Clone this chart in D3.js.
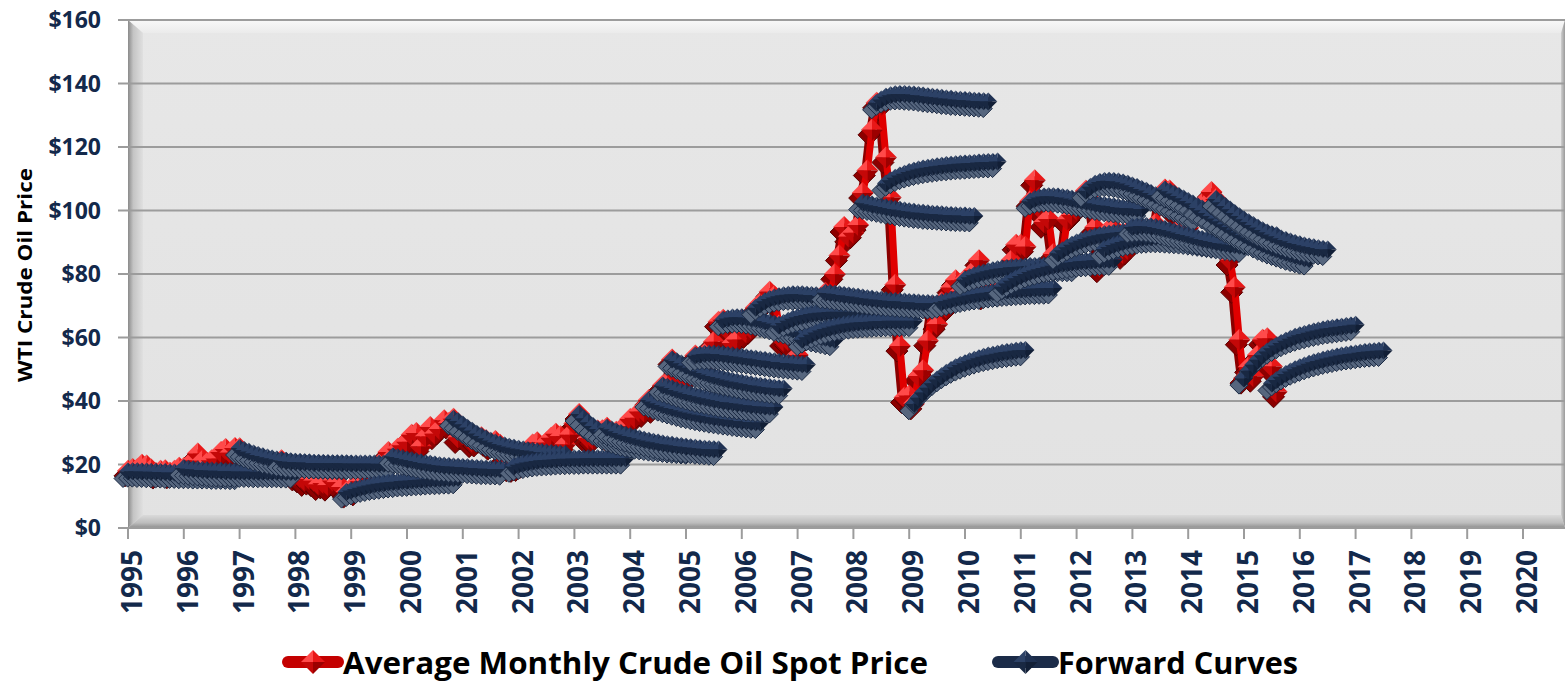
<!DOCTYPE html>
<html>
<head>
<script src="https://d3js.org/d3.v7.min.js"></script>
<style>
  body { margin: 0; background: #fff; }
  svg { display: block; }
  text { font-family: "Open Sans", sans-serif; font-weight: bold; }
</style>
</head>
<body>
<svg id="chart" width="1566" height="683"></svg>
<script>
// monthly average WTI spot price, Jan 1995 .. Aug 2015
const spotStart = "1995-01";
const spotPrice = [
  18.0, 18.6, 18.5, 19.9, 19.7, 18.4, 17.3, 18.0, 18.2, 17.4, 18.0, 19.0,
  18.9, 19.1, 21.3, 23.5, 21.2, 20.4, 21.3, 21.9, 23.9, 24.9, 23.7, 25.2,
  25.1, 22.2, 20.9, 19.7, 20.8, 19.3, 19.7, 19.9, 19.8, 21.3, 20.2, 18.3,
  16.7, 16.1, 15.0, 15.4, 14.9, 13.7, 14.2, 13.5, 15.0, 14.4, 12.9, 11.3,
  12.5, 12.0, 14.7, 17.3, 17.8, 17.9, 20.1, 21.3, 23.9, 22.6, 25.0, 26.1,
  27.2, 29.4, 29.9, 25.7, 28.8, 31.8, 29.7, 31.2, 33.9, 33.1, 34.4, 28.5,
  29.6, 29.6, 27.2, 27.4, 28.6, 27.6, 26.4, 27.4, 26.2, 22.2, 19.6, 19.4,
  19.7, 20.7, 24.4, 26.3, 27.0, 25.5, 26.9, 28.4, 29.7, 28.9, 26.3, 29.4,
  32.9, 35.9, 33.5, 28.3, 28.1, 30.7, 30.8, 31.6, 28.3, 30.3, 31.1, 32.1,
  34.3, 34.7, 36.7, 36.7, 40.3, 38.0, 40.7, 44.9, 45.9, 53.1, 48.5, 43.3,
  46.8, 48.0, 54.3, 53.0, 49.8, 56.3, 58.7, 65.0, 65.6, 62.4, 58.3, 59.4,
  65.5, 61.6, 62.9, 69.4, 70.8, 70.9, 74.4, 73.0, 63.8, 58.9, 59.1, 62.0,
  54.5, 59.3, 60.4, 64.0, 63.5, 67.5, 74.1, 72.4, 79.9, 85.8, 94.8, 91.7,
  93.0, 95.4, 105.5, 112.6, 125.4, 133.9, 133.4, 116.7, 104.1, 76.6, 57.3, 41.1,
  41.7, 39.1, 47.9, 49.7, 59.0, 69.6, 64.2, 71.1, 69.4, 75.7, 78.0, 74.5,
  78.3, 76.4, 81.2, 84.3, 73.7, 75.3, 76.3, 76.6, 75.2, 81.9, 84.3, 89.2,
  89.2, 88.6, 102.9, 109.5, 100.9, 96.3, 97.3, 86.3, 85.5, 86.3, 97.2, 98.6,
  100.3, 102.2, 106.2, 103.3, 94.7, 82.3, 87.9, 94.1, 94.5, 89.5, 86.5, 87.9,
  94.8, 95.3, 92.9, 92.0, 94.5, 95.8, 104.6, 106.6, 106.3, 100.5, 93.9, 97.6,
  94.6, 100.8, 100.8, 102.1, 102.2, 105.8, 103.6, 96.5, 93.2, 84.4, 75.8, 59.3,
  47.2, 50.6, 47.8, 54.5, 59.3, 59.8, 50.9, 42.9
];

// forward curves: first contract month and 25 monthly prices
const fwdStart = [
  "1995-01", "1996-01", "1997-01", "1997-10", "1998-12", "1999-10", "2000-11", "2001-12",
  "2003-02", "2003-08", "2004-05", "2004-08", "2004-10", "2005-03", "2005-09", "2006-04",
  "2006-09", "2007-02", "2007-07", "2008-03", "2008-06", "2008-08", "2009-02", "2009-08",
  "2010-01", "2010-09", "2011-03", "2011-09", "2012-03", "2012-07", "2013-01", "2013-08",
  "2014-03", "2014-07", "2015-01", "2015-07"
];
const fwdCurves = [
  [17.8,17.9,17.9,17.8,17.8,17.7,17.7,17.6,17.6,17.5,17.5,17.5,17.4,17.4,17.4,17.3,17.3,17.3,17.3,17.2,17.2,17.2,17.2,17.1,17.1],
  [18.9,18.7,18.5,18.4,18.3,18.2,18.1,18.0,18.0,17.9,17.9,17.9,17.8,17.8,17.8,17.8,17.7,17.7,17.7,17.7,17.7,17.7,17.6,17.6,17.6],
  [25.2,24.6,24.0,23.5,23.0,22.6,22.2,21.9,21.6,21.4,21.2,21.0,20.9,20.8,20.7,20.6,20.5,20.5,20.4,20.4,20.3,20.3,20.3,20.2,20.2],
  [21.3,21.1,20.9,20.8,20.7,20.6,20.6,20.5,20.5,20.5,20.4,20.4,20.4,20.4,20.4,20.3,20.3,20.3,20.3,20.3,20.3,20.2,20.2,20.2,20.2],
  [11.3,11.8,12.3,12.7,13.1,13.4,13.7,13.9,14.1,14.3,14.5,14.6,14.8,14.9,15.0,15.1,15.2,15.3,15.4,15.5,15.5,15.6,15.7,15.7,15.8],
  [22.6,22.3,22.0,21.6,21.3,21.0,20.7,20.4,20.2,20.0,19.8,19.6,19.5,19.4,19.3,19.2,19.1,19.0,18.9,18.8,18.7,18.7,18.6,18.6,18.5],
  [34.4,33.6,32.6,31.6,30.6,29.7,28.9,28.2,27.5,26.9,26.4,26.0,25.6,25.3,25.0,24.7,24.5,24.3,24.1,23.9,23.8,23.6,23.5,23.4,23.3],
  [19.4,19.9,20.3,20.6,20.9,21.1,21.3,21.4,21.5,21.6,21.7,21.8,21.8,21.9,21.9,21.9,22.0,22.0,22.0,22.0,22.0,22.0,22.0,22.0,22.0],
  [35.9,34.5,33.2,32.1,31.1,30.3,29.6,29.0,28.5,28.0,27.6,27.3,27.0,26.7,26.5,26.3,26.1,25.9,25.8,25.7,25.5,25.4,25.3,25.2,25.1],
  [31.6,31.0,30.4,29.9,29.4,29.0,28.6,28.2,27.8,27.5,27.2,26.9,26.6,26.4,26.2,26.0,25.8,25.6,25.4,25.3,25.1,25.0,24.9,24.8,24.7],
  [40.3,39.8,39.2,38.7,38.2,37.8,37.4,37.0,36.6,36.3,36.0,35.7,35.4,35.2,34.9,34.7,34.5,34.3,34.1,33.9,33.7,33.6,33.4,33.3,33.2],
  [44.9,44.5,44.0,43.5,43.0,42.6,42.2,41.8,41.4,41.1,40.8,40.5,40.2,39.9,39.7,39.5,39.3,39.1,38.9,38.7,38.6,38.4,38.3,38.2,38.1],
  [53.1,52.5,51.8,51.1,50.5,49.9,49.3,48.8,48.3,47.9,47.5,47.1,46.7,46.4,46.1,45.8,45.5,45.3,45.0,44.8,44.6,44.4,44.2,44.0,43.9],
  [54.3,54.6,54.8,54.9,54.9,54.8,54.7,54.5,54.3,54.1,53.9,53.7,53.5,53.3,53.1,52.9,52.7,52.5,52.3,52.2,52.0,51.9,51.7,51.6,51.5],
  [65.6,66.0,66.3,66.4,66.4,66.3,66.1,65.8,65.5,65.1,64.7,64.3,63.9,63.4,63.0,62.5,62.1,61.7,61.3,60.9,60.5,60.2,59.9,59.6,59.3],
  [69.4,70.5,71.4,72.1,72.6,73.0,73.3,73.5,73.6,73.6,73.6,73.5,73.4,73.3,73.1,72.9,72.7,72.5,72.3,72.1,71.9,71.7,71.5,71.3,71.1],
  [63.8,64.6,65.3,65.9,66.4,66.8,67.1,67.4,67.6,67.8,67.9,68.0,68.1,68.1,68.1,68.1,68.1,68.0,68.0,67.9,67.9,67.8,67.7,67.7,67.6],
  [59.3,60.1,60.9,61.6,62.2,62.7,63.1,63.5,63.8,64.1,64.3,64.5,64.7,64.8,64.9,65.0,65.1,65.2,65.2,65.3,65.3,65.3,65.3,65.3,65.3],
  [74.1,74.0,73.8,73.6,73.4,73.2,73.0,72.8,72.6,72.4,72.2,72.0,71.9,71.7,71.6,71.5,71.4,71.3,71.2,71.1,71.0,70.9,70.9,70.8,70.8],
  [102.5,102.2,101.9,101.6,101.3,101.0,100.7,100.5,100.2,100.0,99.8,99.6,99.4,99.3,99.1,99.0,98.9,98.8,98.7,98.6,98.5,98.4,98.4,98.3,98.3],
  [133.9,135.0,135.8,136.3,136.6,136.7,136.7,136.6,136.5,136.4,136.2,136.0,135.8,135.7,135.5,135.3,135.2,135.0,134.9,134.8,134.7,134.6,134.5,134.4,134.3],
  [108.5,109.5,110.3,111.0,111.6,112.1,112.5,112.9,113.2,113.5,113.7,113.9,114.1,114.3,114.4,114.6,114.7,114.8,114.9,115.0,115.1,115.2,115.3,115.3,115.4],
  [39.1,41.0,42.7,44.2,45.6,46.8,47.9,48.9,49.8,50.6,51.3,51.9,52.5,53.0,53.5,53.9,54.3,54.6,54.9,55.2,55.4,55.6,55.8,56.0,56.1],
  [71.1,71.5,71.9,72.3,72.6,72.9,73.2,73.5,73.7,73.9,74.1,74.3,74.5,74.6,74.8,74.9,75.0,75.1,75.2,75.3,75.4,75.4,75.5,75.5,75.6],
  [78.3,79.0,79.6,80.1,80.5,80.9,81.2,81.5,81.7,81.9,82.1,82.2,82.3,82.4,82.5,82.5,82.6,82.6,82.6,82.6,82.6,82.6,82.6,82.6,82.6],
  [76.0,77.0,77.9,78.7,79.4,80.0,80.6,81.1,81.5,81.9,82.3,82.6,82.9,83.2,83.4,83.6,83.8,84.0,84.1,84.2,84.3,84.4,84.5,84.5,84.6],
  [102.9,103.6,104.1,104.4,104.5,104.5,104.4,104.2,104.0,103.7,103.4,103.1,102.8,102.5,102.2,101.9,101.7,101.5,101.3,101.1,100.9,100.8,100.7,100.6,100.5],
  [86.5,87.5,88.4,89.2,89.9,90.5,91.0,91.5,91.9,92.2,92.5,92.7,92.9,93.1,93.2,93.3,93.3,93.4,93.4,93.4,93.4,93.3,93.3,93.2,93.2],
  [106.2,107.5,108.4,109.0,109.3,109.4,109.3,109.1,108.8,108.4,107.9,107.4,106.8,106.2,105.5,104.8,104.1,103.4,102.7,102.0,101.3,100.6,99.9,99.2,98.5],
  [87.9,88.5,89.1,89.6,90.1,90.5,90.8,91.1,91.3,91.5,91.6,91.7,91.7,91.7,91.6,91.5,91.4,91.3,91.2,91.0,90.8,90.6,90.4,90.2,90.0],
  [94.8,95.0,95.1,95.1,95.0,94.8,94.5,94.2,93.8,93.4,93.0,92.6,92.2,91.8,91.4,91.0,90.7,90.4,90.1,89.8,89.5,89.3,89.1,88.9,88.7],
  [106.6,106.0,105.3,104.6,103.8,103.0,102.2,101.4,100.6,99.8,99.1,98.4,97.7,97.0,96.4,95.8,95.3,94.8,94.3,93.9,93.5,93.1,92.8,92.5,92.2],
  [100.8,100.0,99.2,98.3,97.4,96.5,95.6,94.7,93.9,93.1,92.3,91.5,90.8,90.1,89.4,88.8,88.2,87.7,87.2,86.7,86.2,85.8,85.4,85.0,84.7],
  [103.6,102.5,101.4,100.3,99.2,98.2,97.2,96.3,95.4,94.6,93.8,93.1,92.4,91.8,91.2,90.7,90.2,89.8,89.4,89.0,88.7,88.4,88.1,87.9,87.7],
  [47.2,49.5,51.4,53.0,54.4,55.6,56.6,57.5,58.3,59.0,59.6,60.2,60.7,61.1,61.5,61.9,62.2,62.5,62.8,63.0,63.2,63.4,63.6,63.8,64.0],
  [45.5,46.6,47.6,48.5,49.3,50.0,50.6,51.2,51.7,52.2,52.6,53.0,53.4,53.7,54.0,54.3,54.6,54.8,55.0,55.2,55.4,55.6,55.7,55.8,55.9]
];

const yearTicks = [1995, 1996, 1997, 1998, 1999, 2000, 2001, 2002, 2003, 2004, 2005, 2006, 2007,
  2008, 2009, 2010, 2011, 2012, 2013, 2014, 2015, 2016, 2017, 2018, 2019, 2020];
const priceTicks = [0, 20, 40, 60, 80, 100, 120, 140, 160];

const svg = d3.select("#chart");
const pLeft = 128, pRight = 1565, pTop = 20, pBottom = 528;
const x = d3.scaleLinear().domain([1995, 2020]).range([128, 1523]);
const y = d3.scaleLinear().domain([0, 160]).range([pBottom, pTop]);

const toPoints = (start, vals) => {
  const [yy, mm] = start.split("-").map(Number);
  return vals.map((v, i) => ({ t: yy + (mm - 1 + i) / 12, v: v }));
};

// gradients for the beveled plot frame
const defs = svg.append("defs");
function grad(id, x2, y2, stops) {
  const g = defs.append("linearGradient").attr("id", id)
    .attr("x1", 0).attr("y1", 0).attr("x2", x2).attr("y2", y2);
  stops.forEach(s => g.append("stop").attr("offset", s[0]).attr("stop-color", s[1]));
}
grad("face", 0, 1, [[0, "#e7e7e7"], [1, "#e2e2e2"]]);
grad("bevTop", 0, 1, [[0, "#f8f8f8"], [1, "#ebebeb"]]);
grad("bevLeft", 1, 0, [[0, "#8a8a8a"], [0.35, "#c4c4c4"], [1, "#e0e0e0"]]);
grad("bevBottom", 0, 1, [[0, "#dadada"], [0.6, "#bdbdbd"], [1, "#8e8e8e"]]);
grad("bevRight", 1, 0, [[0, "#cfcfcf"], [1, "#9a9a9a"]]);

const frame = svg.append("g");
frame.append("rect").attr("x", pLeft).attr("y", pTop).attr("width", pRight - pLeft).attr("height", pBottom - pTop).attr("fill", "url(#face)");
frame.append("polygon").attr("points", `${pLeft},${pTop} ${pRight},${pTop} ${pRight - 4},${pTop + 13} ${pLeft + 15},${pTop + 13}`).attr("fill", "url(#bevTop)");
frame.append("polygon").attr("points", `${pLeft},${pTop} ${pLeft + 15},${pTop + 13} ${pLeft + 15},${pBottom - 13} ${pLeft},${pBottom}`).attr("fill", "url(#bevLeft)");
frame.append("polygon").attr("points", `${pLeft},${pBottom} ${pLeft + 15},${pBottom - 13} ${pRight - 4},${pBottom - 13} ${pRight},${pBottom}`).attr("fill", "url(#bevBottom)");
frame.append("polygon").attr("points", `${pRight},${pTop} ${pRight - 4},${pTop + 13} ${pRight - 4},${pBottom - 13} ${pRight},${pBottom}`).attr("fill", "url(#bevRight)");

// gridlines + y labels
const yAxis = svg.append("g");
yAxis.selectAll("line").data(priceTicks).join("line")
  .attr("x1", 118).attr("x2", pRight)
  .attr("y1", d => y(d)).attr("y2", d => y(d))
  .attr("stroke", "#9c9c9c").attr("stroke-width", 2);
yAxis.selectAll("text").data(priceTicks).join("text")
  .attr("x", 101).attr("y", d => y(d)).attr("dy", "0.35em")
  .attr("text-anchor", "end").attr("font-size", 23).attr("fill", "#13294b")
  .text(d => "$" + d);

// x ticks + rotated year labels
const xAxis = svg.append("g");
xAxis.selectAll("line").data(yearTicks).join("line")
  .attr("x1", d => x(d)).attr("x2", d => x(d))
  .attr("y1", pBottom + 1).attr("y2", pBottom + 11)
  .attr("stroke", "#9c9c9c").attr("stroke-width", 2);
xAxis.selectAll("text").data(yearTicks).join("text")
  .attr("transform", d => `translate(${x(d) + 14},550)rotate(-90)`)
  .attr("text-anchor", "end").attr("font-size", 28).attr("fill", "#13294b")
  .text(d => d);

// y axis title
svg.append("text")
  .attr("transform", "translate(32,275)rotate(-90)")
  .attr("text-anchor", "middle").attr("font-size", 19).attr("fill", "#000")
  .attr("textLength", 214).attr("lengthAdjust", "spacingAndGlyphs")
  .text("WTI Crude Oil Price");

// pyramid-shaded diamond marker
function facets(g, r, colors) {
  const paths = [
    `M0,0L${-r},0L0,${-r}Z`, `M0,0L0,${-r}L${r},0Z`,
    `M0,0L${r},0L0,${r}Z`, `M0,0L0,${r}L${-r},0Z`
  ];
  paths.forEach((p, i) => g.append("path").attr("d", p).attr("fill", colors[i]));
}

const line = d3.line().x(d => x(d.t)).y(d => y(d.v));

function drawSeries(parent, pts, st) {
  const g = parent.append("g");
  // extruded depth
  const depth = g.append("g").attr("transform", `translate(${st.dx},${st.dy})`);
  depth.append("path").datum(pts).attr("d", line).attr("fill", "none")
    .attr("stroke", st.depthLine).attr("stroke-width", st.width).attr("stroke-linejoin", "round");
  depth.selectAll("path.dm").data(pts).join("path").attr("class", "dm")
    .attr("d", `M0,${-st.r}L${st.r},0L0,${st.r}L${-st.r},0Z`)
    .attr("transform", d => `translate(${x(d.t)},${y(d.v)})`)
    .attr("fill", st.depthFill).attr("stroke", st.depthStroke).attr("stroke-width", 1);
  // front face
  g.append("path").datum(pts).attr("d", line).attr("fill", "none")
    .attr("stroke", st.lineColor).attr("stroke-width", st.width).attr("stroke-linejoin", "round");
  g.selectAll("g.mk").data(pts).join("g").attr("class", "mk")
    .attr("transform", d => `translate(${x(d.t)},${y(d.v)})`)
    .each(function () { facets(d3.select(this), st.r, st.faces); });
}

const spotStyle = {
  r: 11, width: 7, dx: -3, dy: 5,
  depthLine: "#8a0000", depthFill: "#8c0000", depthStroke: "#5a0000",
  lineColor: "#e00000", faces: ["#ff4a4a", "#e81818", "#9c0000", "#c40808"]
};
const fwdStyle = {
  r: 9, width: 10, dx: -5, dy: 7,
  depthLine: "#4d5c73", depthFill: "#56667e", depthStroke: "#1b2a44",
  lineColor: "#1b2b48", faces: ["#2c4166", "#1f3152", "#121f36", "#192842"]
};

const marks = svg.append("g");
drawSeries(marks, toPoints(spotStart, spotPrice), spotStyle);
fwdStart.forEach((s, i) => drawSeries(marks, toPoints(s, fwdCurves[i]), fwdStyle));

// legend
const legend = svg.append("g");
const legendItems = [
  { label: "Average Monthly Crude Oil Spot Price", x0: 288, x1: 338, tx: 343, len: 585, st: spotStyle, col: "#c40000" },
  { label: "Forward Curves", x0: 998, x1: 1053, tx: 1058, len: 240, st: fwdStyle, col: "#1b2b48" }
];
legendItems.forEach(d => {
  legend.append("line").attr("x1", d.x0).attr("x2", d.x1).attr("y1", 662).attr("y2", 662)
    .attr("stroke", d.col).attr("stroke-width", 12).attr("stroke-linecap", "round");
  const m = legend.append("g").attr("transform", `translate(${(d.x0 + d.x1) / 2},662)`);
  facets(m, 12, d.st.faces);
  legend.append("text").attr("x", d.tx).attr("y", 674)
    .attr("font-size", 31).attr("fill", "#000")
    .attr("textLength", d.len).attr("lengthAdjust", "spacingAndGlyphs")
    .text(d.label);
});
</script>
</body>
</html>
